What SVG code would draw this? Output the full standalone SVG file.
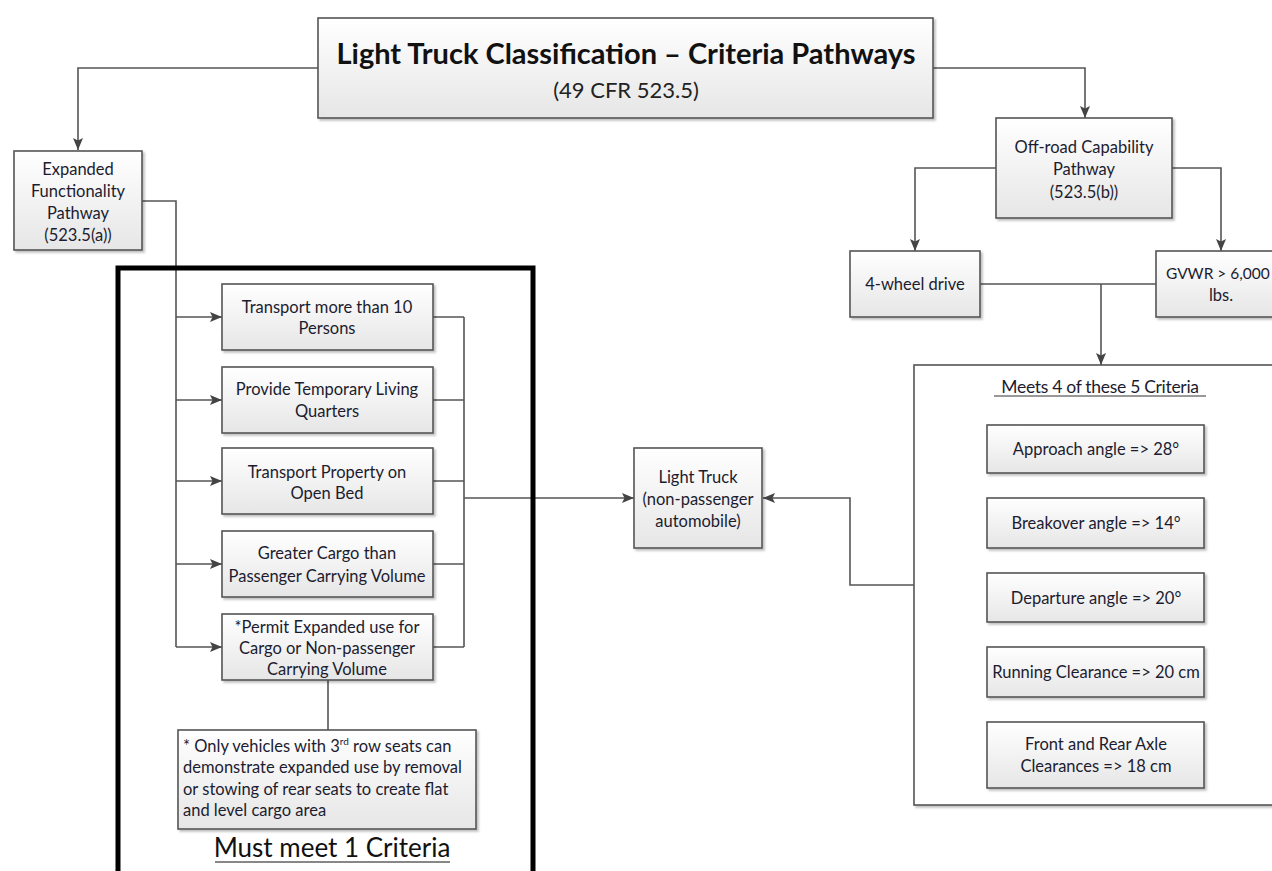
<svg xmlns="http://www.w3.org/2000/svg" width="1272" height="871" viewBox="0 0 1272 871">
<defs>
<linearGradient id="g" x1="0" y1="0" x2="0" y2="1">
<stop offset="0" stop-color="#ffffff"/>
<stop offset="1" stop-color="#e6e6e6"/>
</linearGradient>
<filter id="sh" x="-10%" y="-10%" width="125%" height="130%">
<feDropShadow dx="2" dy="2" stdDeviation="1.2" flood-color="#000" flood-opacity="0.25"/>
</filter>
<marker id="arr" markerWidth="13" markerHeight="13" refX="12" refY="6.5" orient="auto" markerUnits="userSpaceOnUse">
<path d="M0,1.5 L12,6.5 L0,11.5 L2.5,6.5 Z" fill="#444"/>
</marker>
<style>
.box{fill:url(#g);stroke:#555;stroke-width:1.6;filter:url(#sh)}
.t{font-family:Lato,"Liberation Sans",sans-serif;font-size:16.5px;fill:#1c1c30;text-anchor:middle}
.c{fill:none;stroke:#555;stroke-width:1.6}
.a{marker-end:url(#arr)}
</style>
</defs>
<g id="connectors">
<path class="c a" d="M318,68 H78 V150"/>
<path class="c a" d="M933,68 H1085 V118"/>
<path class="c a" d="M996,168 H915 V251"/>
<path class="c a" d="M1172,168 H1221 V251"/>
<path class="c" d="M980,284 H1156"/>
<path class="c a" d="M1101,284 V365"/>
<path class="c" d="M142,201 H176 V647"/>
<path class="c a" d="M176,317 H222"/>
<path class="c a" d="M176,400 H222"/>
<path class="c a" d="M176,481 H222"/>
<path class="c a" d="M176,564 H222"/>
<path class="c a" d="M176,647 H222"/>
<path class="c" d="M433,317 H464 M433,400 H464 M433,481 H464 M433,564 H464 M433,647 H464 M464,317 V647"/>
<path class="c a" d="M464,498 H634"/>
<path class="c" d="M328,680 V730"/>
<path class="c" d="M1096,473 V498 M1096,548 V573 M1096,622 V647 M1096,697 V722"/>
<path class="c a" d="M914,585 H850 V498 H763"/>
</g>
<g id="must-meet-1">
<rect x="118" y="268" width="415" height="620" fill="none" stroke="#000" stroke-width="5"/>
<text class="t" x="332" y="857" style="font-size:26px;fill:#111">Must meet 1 Criteria</text>
<line x1="215" y1="862" x2="450" y2="862" stroke="#111" stroke-width="1.2"/>
</g>
<g id="title">
<rect class="box" x="318" y="18" width="615" height="100"/>
<text class="t" x="626" y="64" style="font-size:29px;font-weight:bold;fill:#111">Light Truck Classification – Criteria Pathways</text>
<text class="t" x="626" y="98" style="font-size:22px;fill:#222">(49 CFR 523.5)</text>
</g>
<g id="expanded">
<rect class="box" x="14" y="151" width="128" height="99"/>
<text class="t" x="78" y="175">Expanded</text>
<text class="t" x="78" y="197">Functionality</text>
<text class="t" x="78" y="219">Pathway</text>
<text class="t" x="78" y="241">(523.5(a))</text>
</g>
<g id="offroad">
<rect class="box" x="996" y="118" width="176" height="100"/>
<text class="t" x="1084" y="153">Off-road Capability</text>
<text class="t" x="1084" y="175">Pathway</text>
<text class="t" x="1084" y="198">(523.5(b))</text>
</g>
<g id="fourwd">
<rect class="box" x="850" y="251" width="130" height="66"/>
<text class="t" x="915" y="290">4-wheel drive</text>
</g>
<g id="gvwr">
<rect class="box" x="1156" y="251" width="134" height="66"/>
<text class="t" x="1166" y="279" style="text-anchor:start;font-size:15.5px">GVWR &gt; 6,000</text>
<text class="t" x="1221" y="301">lbs.</text>
</g>
<g id="opt1">
<rect class="box" x="222" y="284" width="211" height="66"/>
<text class="t" x="327" y="313">Transport more than 10</text>
<text class="t" x="327" y="334">Persons</text>
</g>
<g id="opt2">
<rect class="box" x="222" y="367" width="211" height="66"/>
<text class="t" x="327" y="395">Provide Temporary Living</text>
<text class="t" x="327" y="417">Quarters</text>
</g>
<g id="opt3">
<rect class="box" x="222" y="448" width="211" height="66"/>
<text class="t" x="327" y="478">Transport Property on</text>
<text class="t" x="327" y="499">Open Bed</text>
</g>
<g id="opt4">
<rect class="box" x="222" y="531" width="211" height="66"/>
<text class="t" x="327" y="559">Greater Cargo than</text>
<text class="t" x="327" y="582">Passenger Carrying Volume</text>
</g>
<g id="opt5">
<rect class="box" x="222" y="614" width="211" height="66"/>
<text class="t" x="327" y="633">*Permit Expanded use for</text>
<text class="t" x="327" y="654">Cargo or Non-passenger</text>
<text class="t" x="327" y="675">Carrying Volume</text>
</g>
<g id="footnote">
<rect class="box" x="178" y="730" width="298" height="99"/>
<text class="t" x="183" y="752" style="text-anchor:start">* Only vehicles with 3<tspan dy="-7" style="font-size:10px">rd</tspan><tspan dy="7"> row seats can</tspan></text>
<text class="t" x="183" y="773" style="text-anchor:start">demonstrate expanded use by removal</text>
<text class="t" x="183" y="795" style="text-anchor:start">or stowing of rear seats to create flat</text>
<text class="t" x="183" y="816" style="text-anchor:start">and level cargo area</text>
</g>
<g id="lighttruck">
<rect class="box" x="634" y="448" width="128" height="100"/>
<text class="t" x="698" y="483">Light Truck</text>
<text class="t" x="698" y="505">(non-passenger</text>
<text class="t" x="698" y="527">automobile)</text>
</g>
<g id="meets-4-of-5">
<rect x="914" y="365" width="370" height="440" fill="#fff" stroke="#555" stroke-width="1.6" filter="url(#sh)"/>
<text class="t" x="1100" y="393" style="font-size:17.5px;letter-spacing:-0.3px">Meets 4 of these 5 Criteria</text>
<line x1="994" y1="396" x2="1206" y2="396" stroke="#333" stroke-width="1"/>
</g>
<g id="crit1">
<rect class="box" x="987" y="425" width="217" height="48"/>
<text class="t" x="1096" y="455">Approach angle =&gt; 28°</text>
</g>
<g id="crit2">
<rect class="box" x="987" y="498" width="217" height="50"/>
<text class="t" x="1096" y="529">Breakover angle =&gt; 14°</text>
</g>
<g id="crit3">
<rect class="box" x="987" y="573" width="217" height="49"/>
<text class="t" x="1096" y="604">Departure angle =&gt; 20°</text>
</g>
<g id="crit4">
<rect class="box" x="987" y="647" width="217" height="50"/>
<text class="t" x="1096" y="678">Running Clearance =&gt; 20 cm</text>
</g>
<g id="crit5">
<rect class="box" x="987" y="722" width="217" height="66"/>
<text class="t" x="1096" y="750">Front and Rear Axle</text>
<text class="t" x="1096" y="772">Clearances =&gt; 18 cm</text>
</g>
</svg>
